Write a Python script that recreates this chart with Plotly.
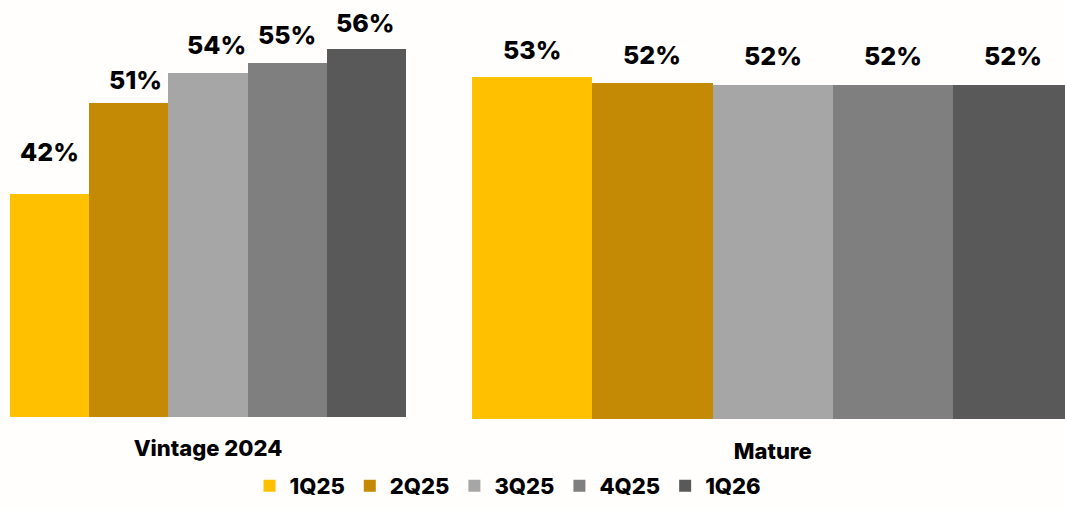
import plotly.graph_objects as go

quarters = ["1Q25", "2Q25", "3Q25", "4Q25", "1Q26"]
vintage_values = [42.0, 50.8, 53.7, 54.6, 56.0]
mature_values = [53.0, 52.45, 52.3, 52.3, 52.3]
group_vintage = "Vintage 2024"
group_mature = "Mature"

colors = ["#FFC000", "#C58A05", "#A6A6A6", "#7F7F7F", "#595959"]
vint_shift_y = [42, 23, 28, 28, 26]
vint_shift_x = [0, 7, 8, 0, -1]
mat_shift_y = [27, 28, 29, 29, 29]

FONT = "Inter"
W, H = 1065, 507
PX_PER_UNIT = 10.45

fig = go.Figure()
for i, q in enumerate(quarters):
    fig.add_trace(go.Bar(
        x=[group_vintage], y=[vintage_values[i]], name=q, marker_color=colors[i],
        marker_line_width=0, xaxis="x", yaxis="y", legendgroup=q, showlegend=True,
        hoverinfo="skip"))
    fig.add_trace(go.Bar(
        x=[group_mature], y=[mature_values[i]], name=q, marker_color=colors[i],
        marker_line_width=0, xaxis="x2", yaxis="y2", legendgroup=q, showlegend=False,
        hoverinfo="skip"))

n = len(quarters)
annotations = []
for i in range(n):
    off = -0.5 + (i + 0.5) / n
    annotations.append(dict(
        x=off, y=vintage_values[i], xref="x", yref="y", text=f"{vintage_values[i]:.0f}%",
        showarrow=False, yanchor="middle", xanchor="center",
        yshift=vint_shift_y[i], xshift=vint_shift_x[i],
        font=dict(family=FONT, size=25, color="#000000", weight=800)))
    annotations.append(dict(
        x=off, y=mature_values[i], xref="x2", yref="y2", text=f"{mature_values[i]:.0f}%",
        showarrow=False, yanchor="middle", xanchor="center",
        yshift=mat_shift_y[i],
        font=dict(family=FONT, size=25, color="#000000", weight=800)))

plot_h = 422
y1_min = 20.5
y2_min = 20.08
# Mature panel runs past the right edge of the picture (last bar is cut off)
mature_full_px = 601.5
mature_visible_px = W - 472

fig.update_layout(
    width=W, height=H,
    margin=dict(l=0, r=0, t=0, b=H - plot_h, pad=0),
    paper_bgcolor="#FFFEFC", plot_bgcolor="#FFFEFC",
    barmode="group", bargap=0, bargroupgap=0,
    xaxis=dict(domain=[10 / W, 406 / W], anchor="y", showgrid=False, zeroline=False,
               showline=False, ticks="", ticklabelstandoff=16,
               tickfont=dict(family=FONT, size=22, color="#000000", weight=800)),
    xaxis2=dict(domain=[472 / W, 1.0], anchor="y2", showgrid=False, zeroline=False,
                showline=False, ticks="", ticklabelstandoff=17,
                range=[-0.5, -0.5 + mature_visible_px / mature_full_px],
                tickfont=dict(family=FONT, size=22, color="#000000", weight=800)),
    yaxis=dict(domain=[2 / plot_h, 1.0], range=[y1_min, y1_min + 420 / PX_PER_UNIT],
               visible=False, showgrid=False, zeroline=False),
    yaxis2=dict(domain=[0, 1.0], range=[y2_min, y2_min + 422 / PX_PER_UNIT],
                visible=False, showgrid=False, zeroline=False, anchor="x2"),
    legend=dict(orientation="h", x=508 / W, xanchor="center", y=(plot_h - 490) / plot_h,
                yanchor="middle", font=dict(family=FONT, size=22, color="#000000", weight=800),
                bgcolor="rgba(0,0,0,0)", itemwidth=30, traceorder="normal"),
    annotations=annotations,
    showlegend=True,
)

fig.write_html("out.html")
